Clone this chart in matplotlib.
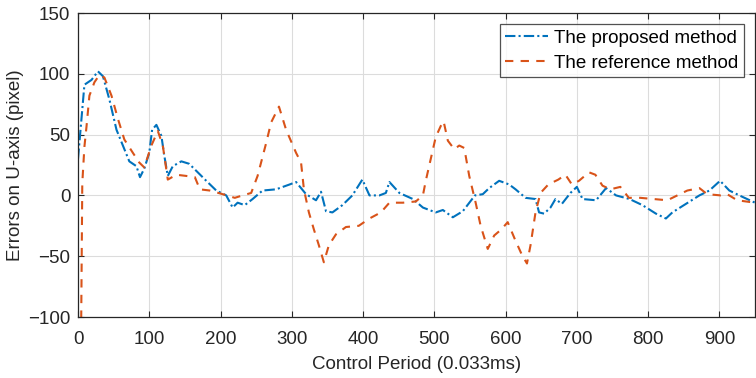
import matplotlib
matplotlib.use("Agg")
import matplotlib.pyplot as plt

plt.rcParams['font.family'] = ['Liberation Sans', 'DejaVu Sans']

# Proposed method (blue, dash-dot)
prop_x = [0, 9, 19, 28, 35, 44, 54, 63, 72, 82, 87, 93, 100, 104, 110, 117, 121, 126, 133, 145,
          156, 168, 180, 194, 208, 217, 224, 234, 245, 259, 278, 297, 306, 320, 334, 341, 348, 357,
          371, 385, 399, 409, 423, 432, 437, 451, 470, 484, 502, 512, 526, 540, 557, 568, 577, 591,
          605, 614, 628, 642, 647, 654, 663, 670, 679, 691, 700, 708, 727, 741, 755, 774, 792, 811,
          825, 834, 853, 872, 886, 901, 914, 928, 950]
prop_y = [30, 91, 95, 102, 98, 79, 54, 41, 28, 24, 15, 22, 35, 54, 58, 49, 33, 16, 24, 28,
          26, 19, 12, 4, 0, -10, -6, -8, -3, 4, 5, 9, 11, 1, -4, 3, -13, -14,
          -8, 0, 13, 0, 0, 2, 11, 2, -3, -10, -14, -12, -18, -13, 0, 1, 6, 12,
          9, 5, -2, -3, -14, -15, -10, -3, -7, 2, 7, -3, -4, 6, 0, -3, -8, -15,
          -19, -14, -7, 0, 4, 12, 4, 0, -6]

# Reference method (red, dashed)
ref_x = [4, 6, 9, 12, 16, 23, 30, 37, 47, 56, 65, 77, 86, 93, 103, 112, 119, 126, 138, 152,
         164, 171, 185, 203, 220, 231, 243, 252, 264, 271, 282, 292, 306, 313, 317, 324, 331, 338,
         345, 352, 362, 376, 394, 409, 425, 437, 456, 474, 484, 488, 495, 502, 509, 513, 519, 528,
         535, 542, 549, 558, 565, 575, 584, 594, 603, 613, 623, 630, 635, 642, 649, 660, 674, 684,
         693, 703, 717, 726, 736, 747, 761, 773, 789, 808, 827, 841, 855, 872, 883, 902, 911, 925, 950]
ref_y = [-140, 10, 40, 57, 82, 93, 99, 97, 82, 63, 46, 35, 27, 23, 41, 53, 41, 13, 17, 16,
         15, 5, 4, 1, -2, 0, 2, 16, 43, 60, 73, 54, 35, 27, 5, -14, -28, -41,
         -55, -41, -32, -26, -25, -19, -14, -6, -6, -5, 0, 12, 30, 48, 57, 61, 45, 38,
         41, 39, 16, -6, -25, -44, -33, -28, -22, -36, -49, -56, -41, -14, 2, 9, 13, 17,
         9, 12, 19, 17, 8, 5, 7, -2, -2, -3, -4, 0, 4, 6, 1, 0, 1, -4, -6]

labels = ["The proposed method", "The reference method"]
xticks = [0, 100, 200, 300, 400, 500, 600, 700, 800, 900]
yticks = [-100, -50, 0, 50, 100, 150]

fs = 13.5
fig = plt.figure(figsize=(7.56, 3.78), dpi=100)
ax = fig.add_axes([78 / 756, 1 - 317 / 378, 677 / 756, 304 / 378])

ax.plot(prop_x, prop_y, color='#0072BD', lw=1.5, linestyle=(0, (5, 1.5, 1, 1.5)), label=labels[0])
ax.plot(ref_x, ref_y, color='#D95319', lw=1.5, linestyle=(0, (4, 3.5)), label=labels[1])

ax.set_xlim(0, 950)
ax.set_ylim(-100, 150)
ax.set_xticks(xticks)
ax.set_yticks(yticks)
ax.grid(True, color='#dcdcdc', lw=0.8)
ax.set_axisbelow(True)
ax.tick_params(direction='in', top=True, right=True, labelsize=fs, colors='#262626', length=4)
ax.tick_params(axis='x', pad=10)
ax.tick_params(axis='y', pad=5.5)
for s in ax.spines.values():
    s.set_color('#262626')
    s.set_linewidth(0.9)
ax.set_xlabel("Control Period (0.033ms)", fontsize=fs, color='#262626', labelpad=6)
ax.set_ylabel("Errors on U-axis (pixel)", fontsize=fs, color='#262626', labelpad=3)

leg = ax.legend(loc='upper right', fontsize=fs, frameon=True, fancybox=False,
                edgecolor='#262626', handlelength=2.3, handletextpad=0.3,
                borderaxespad=0.6, borderpad=0.3, labelspacing=0.4)
leg.get_frame().set_linewidth(0.9)

fig.savefig("out.png", dpi=100)
